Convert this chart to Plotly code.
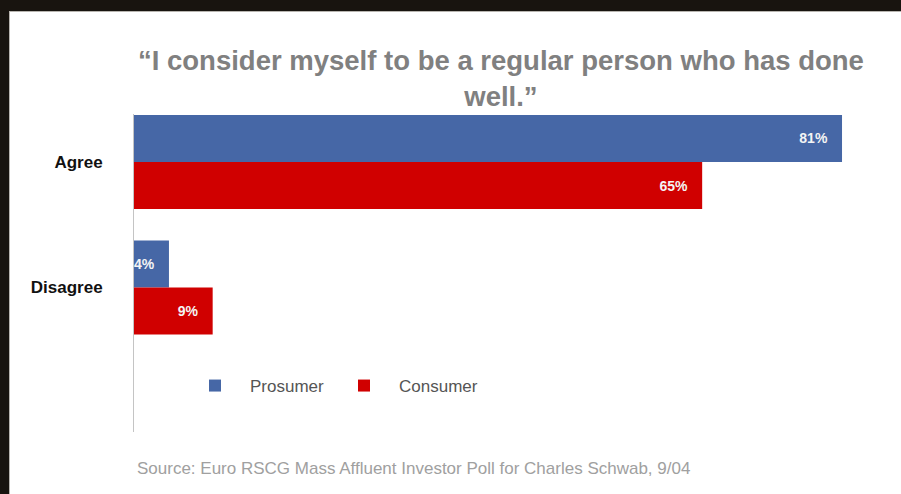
import plotly.graph_objects as go

# Survey responses (percent of respondents)
categories = ["Agree", "Disagree"]
prosumer = [81, 4]
consumer = [65, 9]

series_names = ["Prosumer", "Consumer"]
series_colors = ["#4667a6", "#d00000"]

title_text = "\u201cI consider myself to be a regular person who has done<br>well.\u201d"
source_text = "Source: Euro RSCG Mass Affluent Investor Poll for Charles Schwab, 9/04"

W, H = 901, 494
ML, MR, MT, MB = 134, 21, 114, 62
PW, PH = W - ML - MR, H - MT - MB
PX_PER_PCT = 8.741
FRAME = "#18140f"


def px_x(px):
    return (px - ML) / PW


def px_y(py):
    return 1 - (py - MT) / PH


label_font = dict(family="Liberation Sans, Arial, sans-serif", size=14, color="#f4f4f4")
pad = "\u00a0" * 3

fig = go.Figure()
for name, vals, col in zip(series_names, [prosumer, consumer], series_colors):
    fig.add_trace(go.Bar(
        name=name,
        y=categories,
        x=vals,
        orientation="h",
        marker=dict(color=col, line=dict(width=0)),
        texttemplate="<b>%{x}%</b>" + pad,
        textposition="inside",
        insidetextanchor="end",
        textangle=0,
        constraintext="none",
        cliponaxis=False,
        textfont=label_font,
        hoverinfo="skip",
    ))

fig.update_layout(
    width=W,
    height=H,
    margin=dict(l=ML, r=MR, t=MT, b=MB, pad=0),
    paper_bgcolor="#ffffff",
    plot_bgcolor="rgba(0,0,0,0)",
    barmode="group",
    bargap=0.25,
    bargroupgap=0,
    showlegend=True,
    legend=dict(
        orientation="h",
        x=px_x(180),
        xanchor="left",
        y=px_y(386),
        yanchor="middle",
        itemwidth=60,
        font=dict(family="Liberation Sans, Arial, sans-serif", size=17, color="#555555"),
        bgcolor="rgba(0,0,0,0)",
        traceorder="normal",
    ),
    xaxis=dict(
        range=[0, PW / PX_PER_PCT],
        showgrid=False,
        zeroline=False,
        showticklabels=False,
        showline=False,
        fixedrange=True,
    ),
    yaxis=dict(
        type="category",
        categoryorder="array",
        categoryarray=categories,
        range=[2.151, -0.382],
        showgrid=False,
        zeroline=False,
        showline=True,
        linecolor="#c4c4c4",
        linewidth=1,
        ticks="",
        ticklabelstandoff=27,
        tickfont=dict(family="Liberation Sans, Arial, sans-serif", size=17, color="#111111"),
        tickprefix="<b>",
        ticksuffix="</b>",
        fixedrange=True,
    ),
    shapes=[
        # dark frame around the slide: top band and left band
        dict(type="rect", xref="paper", yref="paper", layer="below",
             x0=px_x(0), x1=px_x(W), y0=px_y(11), y1=px_y(0),
             fillcolor=FRAME, line=dict(width=0)),
        dict(type="rect", xref="paper", yref="paper", layer="below",
             x0=px_x(0), x1=px_x(9), y0=px_y(H), y1=px_y(0),
             fillcolor=FRAME, line=dict(width=0)),
        # soft edge of the slide
        dict(type="line", xref="paper", yref="paper", layer="below",
             x0=px_x(10), x1=px_x(W), y0=px_y(11.5), y1=px_y(11.5),
             line=dict(color="#b8b5b0", width=1)),
        dict(type="line", xref="paper", yref="paper", layer="below",
             x0=px_x(9.5), x1=px_x(9.5), y0=px_y(11), y1=px_y(H),
             line=dict(color="#b8b5b0", width=1)),
    ],
    annotations=[
        dict(text="<b>" + title_text + "</b>", xref="paper", yref="paper",
             x=px_x(501), y=px_y(43), xanchor="center", yanchor="top",
             showarrow=False, align="center",
             font=dict(family="Liberation Sans, Arial, sans-serif", size=27.5, color="#808080")),
        dict(text=source_text, xref="paper", yref="paper",
             x=px_x(135), y=px_y(468), xanchor="left", yanchor="middle",
             showarrow=False,
             font=dict(family="Liberation Sans, Arial, sans-serif", size=17, color="#a0a0a0")),
    ],
)

fig.write_html("out.html")
